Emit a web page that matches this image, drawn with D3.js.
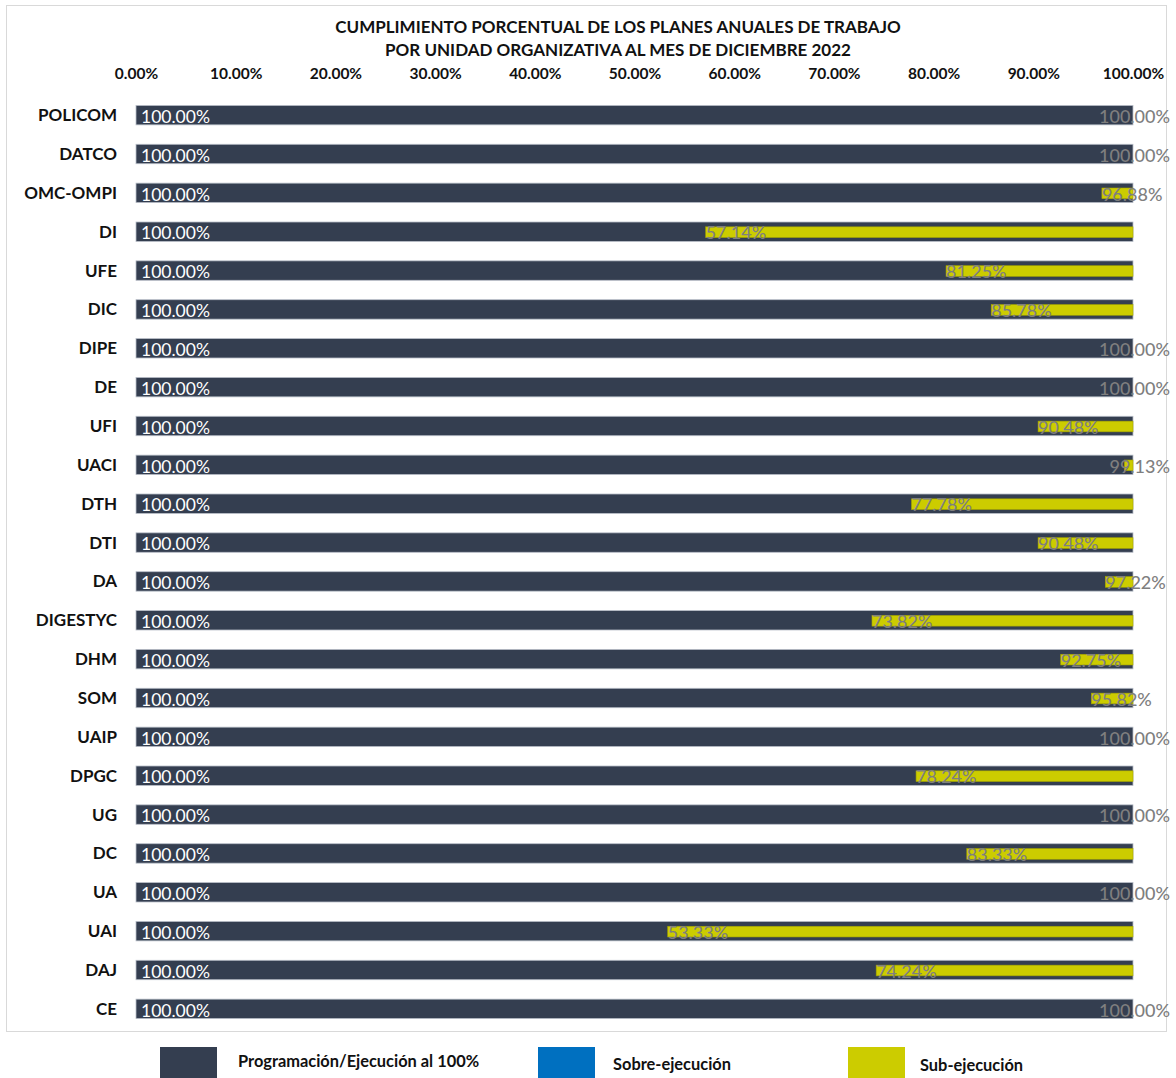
<!DOCTYPE html>
<html><head><meta charset="utf-8">
<script src="https://cdn.jsdelivr.net/npm/d3@7"></script>
<style>body{margin:0;background:#fff}svg{display:block;font-family:Lato,"Open Sans",sans-serif}</style>
</head><body>
<svg id="c" width="1176" height="1078"></svg>
<script>
const categories = ["POLICOM","DATCO","OMC-OMPI","DI","UFE","DIC","DIPE","DE","UFI","UACI","DTH","DTI","DA","DIGESTYC","DHM","SOM","UAIP","DPGC","UG","DC","UA","UAI","DAJ","CE"];
const programmed = [100,100,100,100,100,100,100,100,100,100,100,100,100,100,100,100,100,100,100,100,100,100,100,100];
const executed = [100,100,96.88,57.14,81.25,85.78,100,100,90.48,99.13,77.78,90.48,97.22,73.82,92.75,95.82,100,78.24,100,83.33,100,53.33,74.24,100];
const ticks = [0,10,20,30,40,50,60,70,80,90,100];
const titleLines = ["CUMPLIMIENTO PORCENTUAL DE LOS PLANES ANUALES DE TRABAJO","POR UNIDAD ORGANIZATIVA AL MES DE DICIEMBRE 2022"];
const legendItems = [{label:"Programación/Ejecución al 100%", color:"#343e50"},{label:"Sobre-ejecución", color:"#0070c0"},{label:"Sub-ejecución", color:"#cccc00"}];

const svg = d3.select("#c");
const fmt = v => v.toFixed(2) + "%";
const x = d3.scaleLinear().domain([0,100]).range([136,1133]);
const y = d3.scaleBand().domain(categories).range([86,1038]).padding(0.5);

// frame
svg.append("rect").attr("x",6.5).attr("y",5.5).attr("width",1160).attr("height",1026)
  .attr("fill","#fff").attr("stroke","#d9d9d9");

// title
svg.selectAll("text.title").data(titleLines).join("text")
  .attr("x",618).attr("y",(d,i)=>33+i*23).attr("text-anchor","middle")
  .attr("font-weight","bold").attr("font-size",17).attr("fill","#111").text(d=>d);

// top axis
const axis = d3.axisTop(x).tickValues(ticks).tickFormat(d=>d.toFixed(2)+"%").tickSize(0).tickPadding(0);
const ag = svg.append("g").attr("transform","translate(0,79)").call(axis);
ag.select(".domain").remove();
ag.selectAll("text").attr("font-family","Lato").attr("font-weight","bold").attr("font-size",15.5).attr("fill","#111");

// category labels
svg.selectAll("text.cat").data(categories).join("text")
  .attr("x",117).attr("y",d=>y(d)+y.bandwidth()/2+6).attr("text-anchor","end")
  .attr("font-weight","bold").attr("font-size",17).attr("fill","#111").text(d=>d);

const rows = categories.map((c,i)=>({c, p:programmed[i], v:executed[i]}));

// dark bars
svg.selectAll("rect.prog").data(rows).join("rect")
  .attr("x",x(0)).attr("y",d=>y(d.c)).attr("width",d=>x(d.p)-x(0)).attr("height",y.bandwidth())
  .attr("fill","#343e50").attr("stroke","#b8bec8").attr("stroke-width",0.8);

// sub-execution bars
svg.selectAll("rect.sub").data(rows.filter(d=>d.v<d.p)).join("rect")
  .attr("x",d=>x(d.v)).attr("y",d=>y(d.c)+y.bandwidth()*0.25).attr("width",d=>x(d.p)-x(d.v))
  .attr("height",y.bandwidth()*0.55).attr("fill","#cccc00").attr("stroke","#a3a300").attr("stroke-width",0.6);

// white programmed labels
svg.selectAll("text.pl").data(rows).join("text")
  .attr("x",x(0)+5).attr("y",d=>y(d.c)+y.bandwidth()-2).attr("font-size",17.5).attr("fill","#fff").text(d=>fmt(d.p));

// gray execution labels
const gl = svg.selectAll("text.el").data(rows).join("text")
  .attr("y",d=>y(d.c)+y.bandwidth()-2).attr("font-size",18).attr("font-weight",500).attr("fill","#7f7f7f").text(d=>fmt(d.v));
gl.each(function(d){
  const w = this.getComputedTextLength();
  d3.select(this).attr("x", Math.min(x(d.v), 1170 - w));
});

// legend
const lx = [160,538,848], tx=[238,613,920];
const lg = svg.selectAll("g.leg").data(legendItems).join("g");
lg.append("rect").attr("x",(d,i)=>lx[i]).attr("y",1047).attr("width",57).attr("height",33).attr("fill",d=>d.color);
lg.append("text").attr("x",(d,i)=>tx[i]).attr("y",(d,i)=>[1067,1070,1071][i])
  .attr("font-weight","bold").attr("font-size",16.4).attr("fill","#111").text(d=>d.label);
</script>
</body></html>
